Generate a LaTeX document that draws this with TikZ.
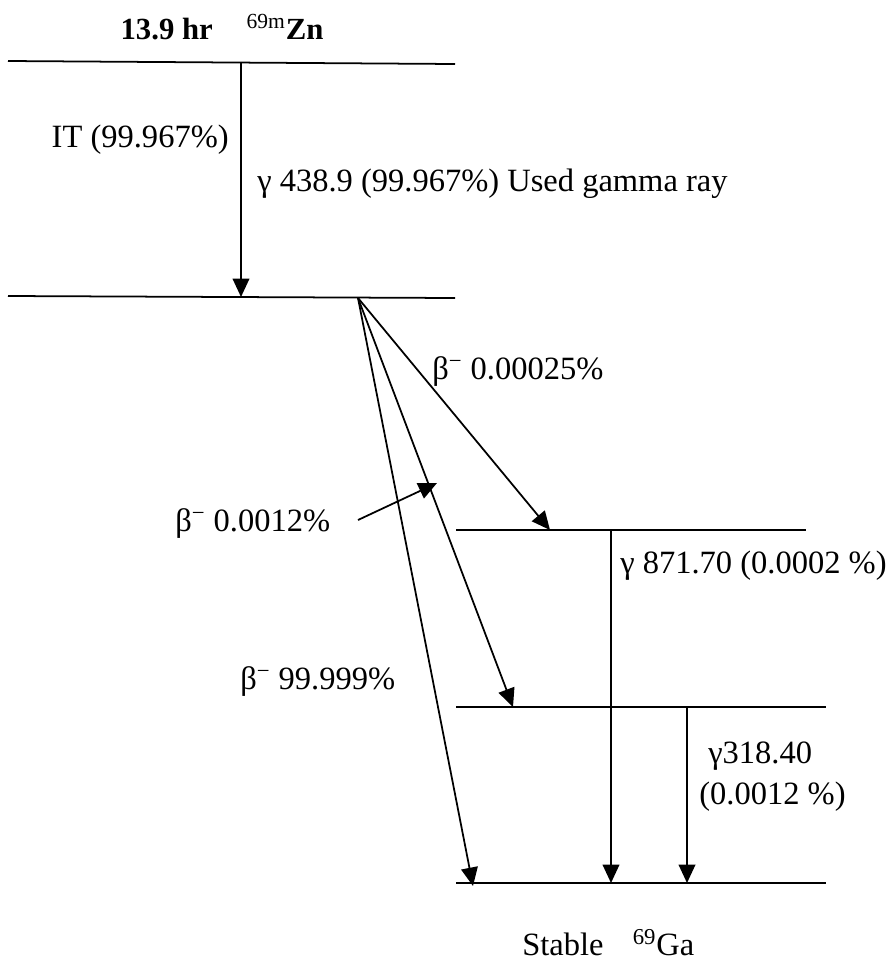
\documentclass[tikz,border=0pt]{standalone}
\usepackage{fontspec}
\setmainfont{Liberation Serif}
\usetikzlibrary{arrows.meta}
\begin{document}
\begin{tikzpicture}[x=0.02cm,y=-0.02cm,
  lvl/.style={line width=1pt},
  trans/.style={line width=1pt,-{Triangle[length=10.5pt,width=9.5pt]}},
  lab/.style={font=\fontsize{18.5}{22}\selectfont,inner sep=0pt},
  every node/.style={inner sep=0pt}]
\useasboundingbox (0,0) rectangle (894,964);
% levels
\coordinate (L1a) at (8,61); \coordinate (L1b) at (455,64);
\coordinate (L2a) at (8,296); \coordinate (L2b) at (455,298);
\coordinate (L3a) at (456,530); \coordinate (L3b) at (806,530);
\coordinate (L4a) at (456,707); \coordinate (L4b) at (826,707);
\coordinate (L5a) at (456,883); \coordinate (L5b) at (826,883);
\draw[lvl] (L1a) -- (L1b);
\draw[lvl] (L2a) -- (L2b);
\draw[lvl] (L3a) -- (L3b);
\draw[lvl] (L4a) -- (L4b);
\draw[lvl] (L5a) -- (L5b);
% transition points
\coordinate (itS) at (241,63); \coordinate (itE) at (241,297);
\coordinate (src) at (358,298);
\coordinate (b1) at (550,530);
\coordinate (b2) at (513,707);
\coordinate (b3) at (473,886);
\coordinate (g1S) at (611,530); \coordinate (g1E) at (611,883);
\coordinate (g2S) at (687,707); \coordinate (g2E) at (687,883);
\coordinate (pS) at (358,520); \coordinate (pE) at (437,483);
\draw[trans] (itS) -- (itE);
\draw[trans] (src) -- (b1);
\draw[trans] (src) -- (b2);
\draw[trans] (src) -- (b3);
\draw[trans] (g1S) -- (g1E);
\draw[trans] (g2S) -- (g2E);
\draw[trans] (pS) -- (pE);
% labels
\node[lab,font=\fontsize{17.5}{20}\selectfont\bfseries] (title) at (222,27) {13.9 hr\hspace{1.1em}{\mdseries\textsuperscript{69m}}Zn};
\node[lab,anchor=east] (itlab) at (229,140) {IT (99.967\%)};
\node[lab,anchor=west] (g0lab) at (257,184) {γ 438.9 (99.967\%) Used gamma ray};
\node[lab,anchor=west] (b1lab) at (432,372) {β\textsuperscript{−} 0.00025\%};
\node[lab,anchor=west] (b2lab) at (175,524) {β\textsuperscript{−} 0.0012\%};
\node[lab,anchor=west] (b3lab) at (240,682) {β\textsuperscript{−} 99.999\%};
\node[lab,anchor=west] (g1lab) at (620,566) {γ 871.70 (0.0002 \%)};
\node[lab,anchor=west] (g2lab) at (708,756) {γ318.40};
\node[lab,anchor=west] (g2lab2) at (699,797) {(0.0012 \%)};
\node[lab,anchor=west] (gslab) at (522,943) {Stable\hspace{0.9em}\textsuperscript{69}Ga};
\end{tikzpicture}
\end{document}
